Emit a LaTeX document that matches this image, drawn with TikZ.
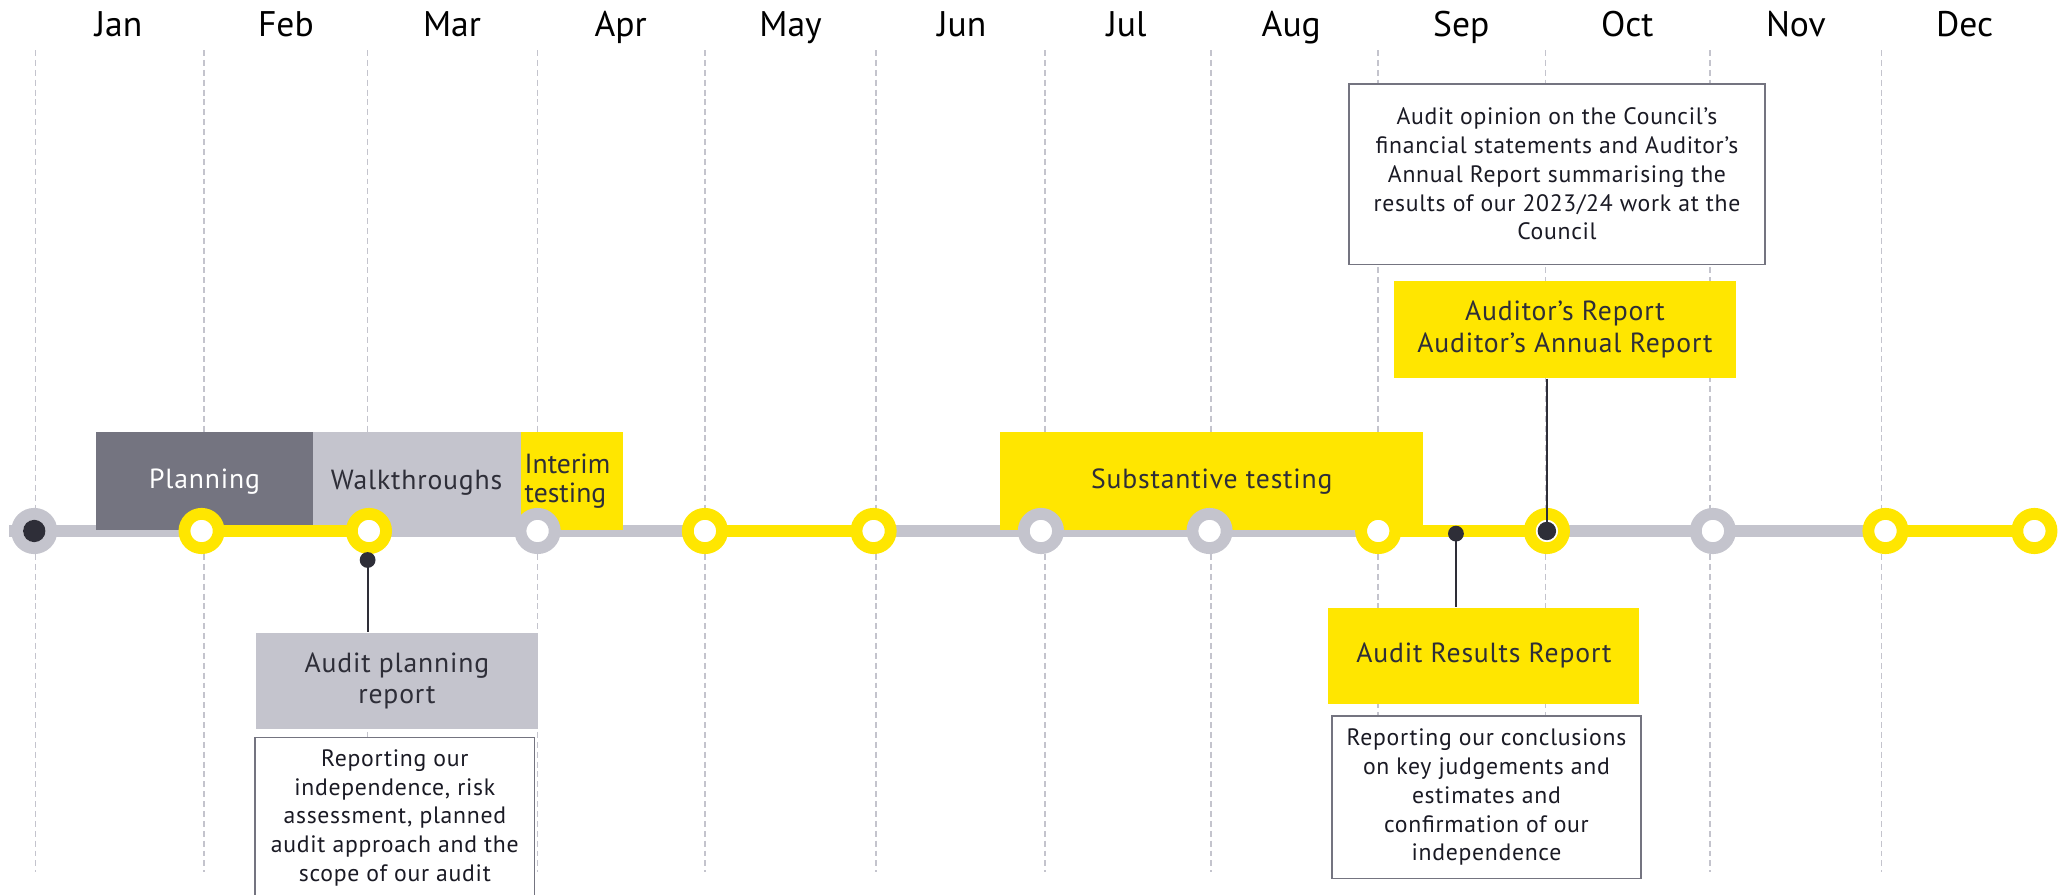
\documentclass[tikz,border=0pt]{standalone}
\usepackage{fontspec}
\setmainfont{PT Sans}
\newfontfamily\spacedfont{PT Sans}[LetterSpace=3]
\definecolor{eyyellow}{HTML}{FFE600}
\definecolor{eygray}{HTML}{C4C4CD}
\definecolor{eydark}{HTML}{2E2E38}
\definecolor{eymid}{HTML}{747480}
\definecolor{eytext}{HTML}{1A1A24}
\begin{document}
\begin{tikzpicture}[x=1pt,y=-1pt,
  grid/.style={eygray, line width=1.3pt, dash pattern=on 4.5pt off 3pt},
  month/.style={font=\fontsize{27}{30}\selectfont, text=black, anchor=base, inner sep=0pt},
  track/.style={eygray, line width=9pt},
  ytrack/.style={eyyellow, line width=9pt},
  phase/.style={rectangle, inner sep=0pt, anchor=north west, font=\spacedfont\fontsize{21}{24}\selectfont, align=center, text=eydark},
  textbox/.style={rectangle, draw=eymid, line width=1.3pt, fill=white, anchor=north west, inner sep=0pt, font=\spacedfont\fontsize{18}{21.8}\selectfont, align=center, text=eytext},
  ring/.style={circle, draw=#1, line width=9pt, fill=white, inner sep=0pt, minimum size=26pt},
  dot/.style={circle, fill=eydark, inner sep=0pt, minimum size=#1},
  conn/.style={eydark, line width=1.6pt}
]
\useasboundingbox (0,0) rectangle (1568,679);

% month grid
\foreach \x in {27,155,279,408,535,665,793,919,1046,1173,1298,1428}
  \draw[grid] (\x,38) -- (\x,662);
\foreach \m/\x in {Jan/90,Feb/217,Mar/343,Apr/471,May/600,Jun/730,Jul/855,Aug/980,Sep/1109,Oct/1235,Nov/1363,Dec/1491}
  \node[month] (m\m) at (\x,28) {\m};

% track positions
\coordinate (tstart) at (7,403);
\foreach \i/\x in {0/26,1/153,2/280,3/408,4/535,5/663,6/790,7/918,8/1046,9/1174,10/1300,11/1431,12/1544}
  \coordinate (p\i) at (\x,403);

\draw[track] (tstart) -- (p12);

% phase boxes
\node[phase, fill=eymid, text=white, minimum width=164pt, minimum height=74pt] (plan) at (73,328) {Planning};
\node[phase, fill=eygray, minimum width=158pt, minimum height=76pt] (walk) at (237,328) {Walkthroughs};
\node[phase, fill=eyyellow, minimum width=78pt, minimum height=74pt, text width=72pt, align=left, font=\fontsize{21}{22.5}\selectfont] (interim) at (395,328) {Interim\\testing};
\node[phase, fill=eyyellow, minimum width=321pt, minimum height=74pt] (subst) at (759,328) {Substantive testing};

% yellow segments
\draw[ytrack] (p1) -- (p2);
\draw[ytrack] (p4) -- (p5);
\draw[ytrack] (p8) -- (p9);
\draw[ytrack] (p11) -- (p12);

% report boxes
\node[textbox] (opinion) at (1023,63) [minimum width=316pt, minimum height=137pt]
  {Audit opinion on the Council’s\\financial statements and Auditor’s\\Annual Report summarising the\\results of our 2023/24 work at the\\Council};
\node[phase, fill=eyyellow, minimum width=259pt, minimum height=74pt] (aar) at (1058,213) {Auditor’s Report\\Auditor’s Annual Report};
\node[phase, fill=eyyellow, minimum width=236pt, minimum height=73pt] (arr) at (1008,461) {Audit Results Report};
\node[textbox] (concl) at (1010,543) [minimum width=235pt, minimum height=123pt]
  {Reporting our conclusions\\on key judgements and\\estimates and\\confirmation of our\\independence};
\node[phase, fill=eygray, minimum width=214pt, minimum height=73pt] (apr) at (194,480) {Audit planning\\report};
\node[textbox] (indep) at (193,559) [minimum width=212pt, minimum height=122pt]
  {Reporting our\\independence, risk\\assessment, planned\\audit approach and the\\scope of our audit};

% rings
\node[ring=eygray] (c0) at (p0) {};
\node[ring=eyyellow] (c1) at (p1) {};
\node[ring=eyyellow] (c2) at (p2) {};
\node[ring=eygray] (c3) at (p3) {};
\node[ring=eyyellow] (c4) at (p4) {};
\node[ring=eyyellow] (c5) at (p5) {};
\node[ring=eygray] (c6) at (p6) {};
\node[ring=eygray] (c7) at (p7) {};
\node[ring=eyyellow] (c8) at (p8) {};
\node[ring=eyyellow] (c9) at (p9) {};
\node[ring=eygray] (c10) at (p10) {};
\node[ring=eyyellow] (c11) at (p11) {};
\node[ring=eyyellow] (c12) at (p12) {};

% connectors and dots
\node[dot=17pt] (c0dot) at (c0.center) {};
\node[dot=12pt] (d1) at (1105,405) {};
\node[dot=12pt] (d2) at (279,425) {};
\draw[conn] (aar.south -| c9) -- (c9.center);
\node[dot=14pt] (c9dot) at (c9.center) {};
\draw[conn] (d1.center) -- (d1 |- arr.north);
\draw[conn] (d2.center) -- (d2 |- apr.north);
\end{tikzpicture}
\end{document}
